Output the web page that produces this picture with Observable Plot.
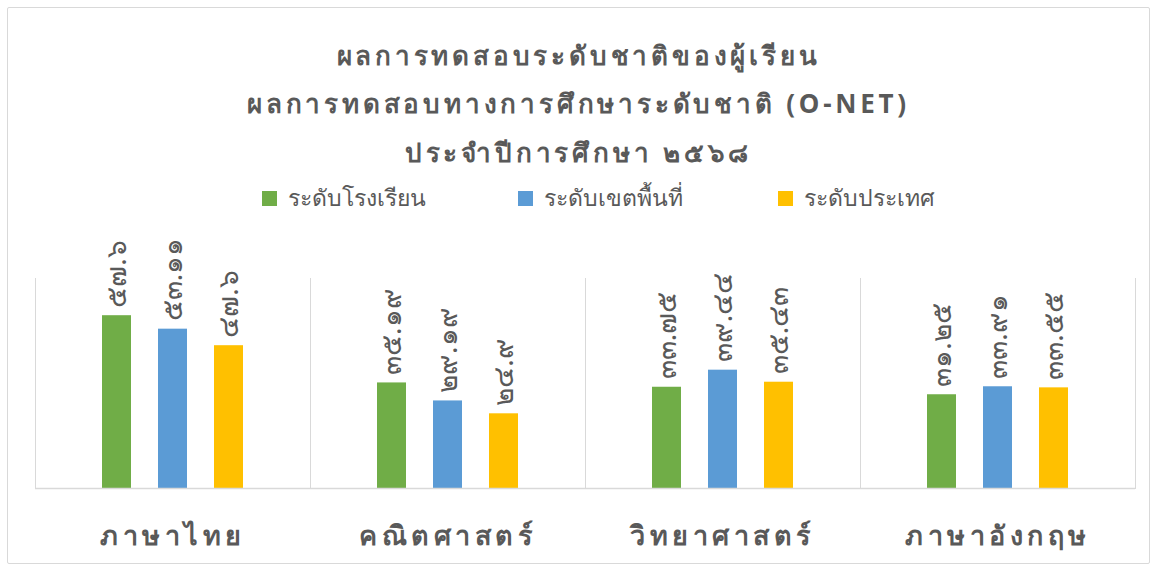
<!DOCTYPE html>
<html><head><meta charset="utf-8">
<script src="https://cdn.jsdelivr.net/npm/d3@7"></script>
<script src="https://cdn.jsdelivr.net/npm/@observablehq/plot@0.6"></script>
<style>
body{margin:0;background:#fff;font-family:"Noto Sans","DejaVu Sans",sans-serif;}
#wrap{position:relative;width:1157px;height:572px;overflow:hidden;}
#border{position:absolute;left:7px;top:7px;width:1141px;height:555px;border:1px solid #d9d9d9;border-radius:2px;}
.tl{position:absolute;left:0;width:1157px;text-align:center;color:#595959;font-size:26px;font-weight:bold;letter-spacing:3.8px;line-height:30px;}
#legend{position:absolute;top:183px;left:0;width:1157px;height:30px;color:#595959;font-size:23px;}
.li{position:absolute;top:0;display:flex;align-items:center;height:30px;}
.sw{width:15px;height:15px;margin-right:11px;}
#chart{position:absolute;left:0;top:230px;}
</style></head><body>
<div id="wrap">
<div id="border"></div>
<div class="tl" style="top:40px">ผลการทดสอบระดับชาติของผู้เรียน</div>
<div class="tl" style="top:88px">ผลการทดสอบทางการศึกษาระดับชาติ (O-NET)</div>
<div class="tl" style="top:137px">ประจำปีการศึกษา ๒๕๖๘</div>
<div id="legend"></div>
<div id="chart"></div>
</div>
<script>
const subjects = ["ภาษาไทย", "คณิตศาสตร์", "วิทยาศาสตร์", "ภาษาอังกฤษ"];
const levels = ["ระดับโรงเรียน", "ระดับเขตพื้นที่", "ระดับประเทศ"];
const school = [57.6, 35.19, 33.75, 31.25];
const district = [53.11, 29.19, 39.44, 33.91];
const national = [47.6, 24.9, 35.43, 33.55];
const colors = ["#70AD47", "#5B9BD5", "#FFC000"];
const legendX = [262, 518, 778];

const thaiDigits = "๐๑๒๓๔๕๖๗๘๙";
const toThai = v => String(v).replace(/[0-9]/g, d => thaiDigits[+d]);

const series = [school, district, national];
const data = [];
subjects.forEach((s, i) => levels.forEach((l, j) => data.push({subject: s, level: l, value: series[j][i]})));

const leg = document.getElementById("legend");
levels.forEach((l, j) => {
  const d = document.createElement("div");
  d.className = "li"; d.style.left = legendX[j] + "px";
  d.innerHTML = `<div class="sw" style="background:${colors[j]}"></div><span>${l}</span>`;
  leg.appendChild(d);
});

const chart = Plot.plot({
  width: 1157, height: 342,
  marginLeft: 35, marginRight: 22, marginTop: 48, marginBottom: 84,
  style: {fontFamily: "inherit", color: "#595959", background: "transparent"},
  fx: {domain: subjects, padding: 0, label: null, axis: null},
  x: {domain: levels, paddingInner: 0.482, paddingOuter: 1.196, axis: null},
  y: {domain: [0, 70], axis: null},
  color: {domain: levels, range: colors},
  marks: [
    Plot.frame({anchor: "left", stroke: "#d9d9d9", strokeOpacity: 1}),
    Plot.frame({anchor: "right", stroke: "#d9d9d9", strokeOpacity: 1}),
    Plot.barY(data, {fx: "subject", x: "level", y: "value", fill: "level"}),
    Plot.ruleY([0], {stroke: "#d9d9d9", strokeWidth: 1.5}),
    Plot.text(data, {fx: "subject", x: "level", y: "value", text: d => toThai(d.value), rotate: -90, textAnchor: "start", lineAnchor: "middle", dy: -8, fontSize: 28, fill: "#595959"}),
    Plot.text(subjects, {fx: d => d, frameAnchor: "bottom", text: d => d, dy: 56, fontSize: 27, fill: "#595959", fontWeight: "bold"})
  ]
});
chart.querySelectorAll("[font-size]").forEach(t => {
  if (t.getAttribute("font-size") === "27") t.style.letterSpacing = "4.5px";
});
document.getElementById("chart").appendChild(chart);
</script>
</body></html>
